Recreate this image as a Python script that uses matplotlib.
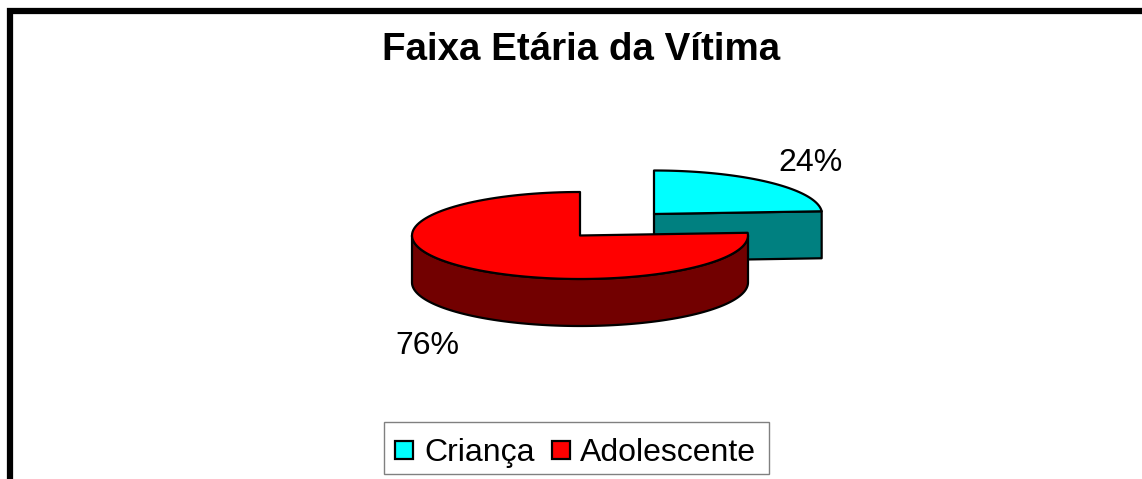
import matplotlib
matplotlib.use('Agg')
import matplotlib.pyplot as plt
import numpy as np
from matplotlib.patches import Polygon, Rectangle

plt.rcParams['font.family'] = ['Liberation Sans', 'DejaVu Sans']

title = 'Faixa Etária da Vítima'
categories = ['Criança', 'Adolescente']
values = [24, 76]
top_colors = ['#00FFFF', '#FF0000']
side_colors = ['#008080', '#720000']

# pie geometry in image pixels, one exploded centre per slice
centers = [(654, 214), (580, 235.5)]
rx = 168
ry = 43.5
depth = 47


def rim(center, start, end, n=120):
    # angles are clockwise from 12 o'clock, y grows downward
    a = np.radians(np.linspace(start, end, n))
    return np.column_stack([center[0] + rx * np.sin(a), center[1] - ry * np.cos(a)])


def draw_slice(ax, center, start, end, top, side):
    down = np.array([0, depth])
    edge = rim(center, start, end)

    # cut face at the closing edge, seen when that edge points at the viewer side
    if end < 180:
        c = np.array(center)
        face = np.array([c, edge[-1], edge[-1] + down, c + down])
        ax.add_patch(Polygon(face, fc=side, ec='black', lw=1.6, joinstyle='round'))

    # outer wall, only the part facing the viewer
    lo, hi = max(start, 90), min(end, 270)
    if lo < hi:
        wall = rim(center, lo, hi)
        ax.add_patch(Polygon(np.vstack([wall, wall[::-1] + down]), fc=side, ec='black', lw=1.6))

    ax.add_patch(Polygon(np.vstack([center, edge]), fc=top, ec='black', lw=1.6, joinstyle='round'))


fig = plt.figure(figsize=(11.42, 4.79), dpi=100)
ax = fig.add_axes([0, 0, 1, 1])
ax.set_xlim(0, 1142)
ax.set_ylim(479, 0)
ax.axis('off')

# heavy chart frame, runs off the right and bottom of the image
ax.add_patch(Rectangle((10, 11), 1200, 500, fc='white', ec='black', lw=4.5))

ax.text(581, 50, title, ha='center', va='center', fontsize=27.7, fontweight='bold')

angles = np.cumsum([0] + values) / sum(values) * 360
for i in range(len(values)):
    draw_slice(ax, centers[i], angles[i], angles[i + 1], top_colors[i], side_colors[i])

ax.text(810.5, 163, f'{values[0]}%', ha='center', va='center', fontsize=23)
ax.text(427, 346, f'{values[1]}%', ha='center', va='center', fontsize=23)

# legend
ax.add_patch(Rectangle((383.5, 422), 385, 52, fc='white', ec='#808080', lw=1))
ax.add_patch(Rectangle((395, 440.5), 18, 18, fc=top_colors[0], ec='black', lw=1.6))
ax.add_patch(Rectangle((552, 440.5), 18, 18, fc=top_colors[1], ec='black', lw=1.6))
ax.text(424, 453, categories[0], ha='left', va='center', fontsize=23)
ax.text(580, 453, categories[1], ha='left', va='center', fontsize=23)

fig.savefig('out.png', dpi=100)
